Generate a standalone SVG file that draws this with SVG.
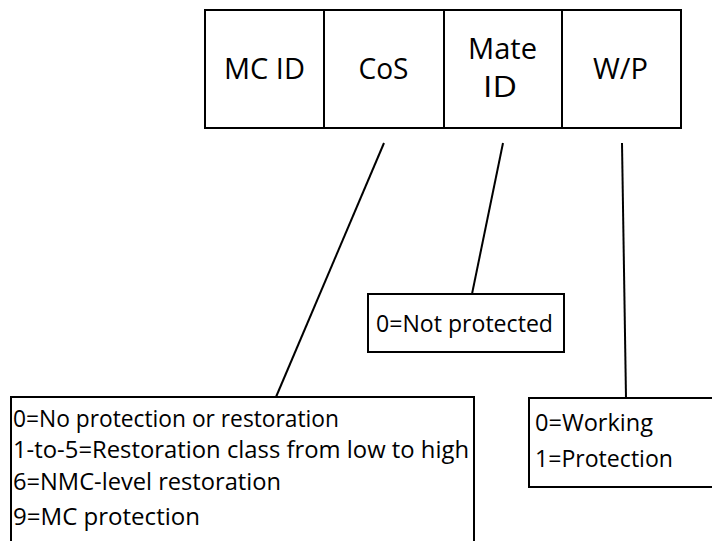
<svg xmlns="http://www.w3.org/2000/svg" width="712" height="541" viewBox="0 0 712 541">
<style>
.box{fill:#fff;stroke:#000;stroke-width:2}
.ln{stroke:#000;stroke-width:2;fill:none}
.t{font-family:"Open Sans","Liberation Sans",sans-serif;fill:#000}
.big{font-size:29.5px;text-anchor:middle}
.sm{font-size:23.5px}
</style>
<rect width="712" height="541" fill="#fff"/>
<g id="fields">
<g id="mcid"><rect class="box" x="205" y="10" width="119" height="118"/><text class="t big" x="264.5" y="79" textLength="81" lengthAdjust="spacingAndGlyphs">MC ID</text></g>
<g id="cos"><rect class="box" x="324" y="10" width="120" height="118"/><text class="t big" x="383.5" y="79" textLength="50" lengthAdjust="spacingAndGlyphs">CoS</text></g>
<g id="mateid"><rect class="box" x="444" y="10" width="118" height="118"/><text class="t big" x="502.5" y="59" textLength="69" lengthAdjust="spacingAndGlyphs">Mate</text><text class="t big" x="500" y="97" textLength="34" lengthAdjust="spacingAndGlyphs">ID</text></g>
<g id="wp"><rect class="box" x="562" y="10" width="119" height="118"/><text class="t big" x="620.5" y="79" textLength="55" lengthAdjust="spacingAndGlyphs">W/P</text></g>
</g>
<g id="connectors">
<line class="ln" x1="384" y1="143" x2="276" y2="397"/>
<line class="ln" x1="503" y1="143" x2="472" y2="294"/>
<line class="ln" x1="622" y1="143" x2="626" y2="398"/>
</g>
<g id="mate-values"><rect class="box" x="368" y="294" width="196" height="58"/><text class="t sm" x="376" y="332" textLength="177" lengthAdjust="spacingAndGlyphs">0=Not protected</text></g>
<g id="cos-values"><rect class="box" x="11" y="397" width="463" height="160"/>
<text class="t sm" x="13" y="427" textLength="326" lengthAdjust="spacingAndGlyphs">0=No protection or restoration</text>
<text class="t sm" x="13" y="458" textLength="456" lengthAdjust="spacingAndGlyphs">1-to-5=Restoration class from low to high</text>
<text class="t sm" x="13" y="490" textLength="268" lengthAdjust="spacingAndGlyphs">6=NMC-level restoration</text>
<text class="t sm" x="13" y="525" textLength="187" lengthAdjust="spacingAndGlyphs">9=MC protection</text>
</g>
<g id="wp-values"><rect class="box" x="529" y="398" width="200" height="89"/>
<text class="t sm" x="535" y="431" textLength="118" lengthAdjust="spacingAndGlyphs">0=Working</text>
<text class="t sm" x="535" y="467" textLength="138" lengthAdjust="spacingAndGlyphs">1=Protection</text>
</g>
</svg>
